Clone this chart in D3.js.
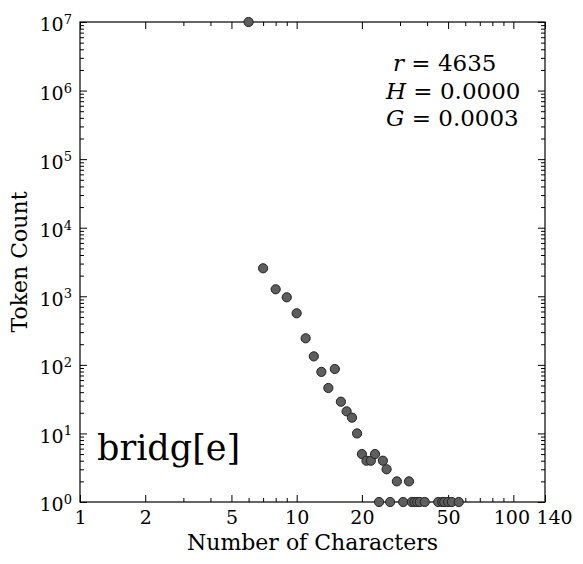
<!DOCTYPE html>
<html>
<head>
<meta charset="utf-8">
<script src="https://cdn.jsdelivr.net/npm/d3@7"></script>
<style>
  body { margin: 0; background: #fff; }
  text { font-family: "DejaVu Serif", serif; fill: #000; }
</style>
</head>
<body>
<script>
// characters per token vs how many tokens have that length
var lengths = [6, 7, 8, 9, 10, 11, 12, 13, 14, 15, 16, 17, 18, 19, 20, 21, 22, 23, 24, 25,
               26, 27, 29, 31, 33, 34, 35, 36, 37, 39, 45, 47, 48, 50, 52, 56];
var counts  = [1e7, 2560, 1265, 967, 565, 244, 133, 79, 46, 87, 29, 21, 17, 10, 5, 4, 4, 5, 1, 4,
               3, 1, 2, 1, 2, 1, 1, 1, 1, 1, 1, 1, 1, 1, 1, 1];

var xMajor = [1, 2, 5, 10, 20, 50, 100, 140];
var xMinor = [3, 4, 6, 7, 8, 9, 30, 40, 60, 70, 80, 90];
var yMajor = [1, 10, 100, 1e3, 1e4, 1e5, 1e6, 1e7];
var yMinor = [];
yMajor.slice(0, -1).forEach(function(d) {
  for (var k = 2; k < 10; k++) yMinor.push(d * k);
});

var stats = [["r", "4635"], ["H", "0.0000"], ["G", "0.0003"]];
var tag = "bridg[e]";

var svg = d3.select("body")
            .append("svg")
            .attr("width", 583)
            .attr("height", 564);

var x0 = 80, x1 = 545, y0 = 22, y1 = 502;

var x = d3.scaleLog().domain([1, 140]).range([x0, x1]);
var y = d3.scaleLog().domain([1, 1e7]).range([y1, y0]);

// ticks all point inward, on all four sides
function ticks(axis, vals, size, tr) {
  var g = svg.append("g")
      .attr("transform", tr)
      .call(axis.tickValues(vals).tickSize(-size).tickFormat(""));
  g.select(".domain").remove();
  g.selectAll("line").attr("stroke", "#000");
  return g;
}

ticks(d3.axisBottom(x), xMinor, 4, "translate(0," + y1 + ")");
ticks(d3.axisTop(x), xMinor, 4, "translate(0," + y0 + ")");
ticks(d3.axisTop(x), xMajor, 7, "translate(0," + y0 + ")");
ticks(d3.axisLeft(y), yMinor, 4, "translate(" + x0 + ",0)");
ticks(d3.axisRight(y), yMinor, 4, "translate(" + x1 + ",0)");
ticks(d3.axisRight(y), yMajor, 7, "translate(" + x1 + ",0)");

var gx = svg.append("g")
    .attr("transform", "translate(0," + y1 + ")")
    .call(d3.axisBottom(x).tickValues(xMajor).tickSize(-7).tickPadding(9)
          .tickFormat(function(d) { return d; }));
gx.select(".domain").remove();
gx.selectAll("line").attr("stroke", "#000");
gx.selectAll("text")
    .attr("font-family", "DejaVu Serif")
    .attr("font-size", 19)
    .attr("fill", "#000")
    .attr("dx", function(d) { return d === 140 ? 9 : (d === 100 ? -2 : 0); });

var gy = svg.append("g")
    .attr("transform", "translate(" + x0 + ",0)")
    .call(d3.axisLeft(y).tickValues(yMajor).tickSize(-7).tickPadding(8)
          .tickFormat(""));
gy.select(".domain").remove();
gy.selectAll("line").attr("stroke", "#000");
gy.selectAll("text")
    .attr("font-family", "DejaVu Serif")
    .attr("font-size", 19)
    .attr("fill", "#000")
    .attr("dy", "0.47em")
    .each(function(d) {
      var t = d3.select(this);
      t.append("tspan").text("10");
      t.append("tspan")
          .attr("font-size", 13)
          .attr("dy", -7.5)
          .text(Math.round(Math.log10(d)));
    });

svg.append("rect")
    .attr("x", x0)
    .attr("y", y0)
    .attr("width", x1 - x0)
    .attr("height", y1 - y0)
    .attr("fill", "none")
    .attr("stroke", "#000")
    .attr("stroke-width", 1.2);

svg.append("g")
  .selectAll("circle")
  .data(lengths)
  .join("circle")
    .attr("cx", function(d) { return x(d); })
    .attr("cy", function(d, i) { return y(counts[i]); })
    .attr("r", 4.6)
    .attr("fill", "#5e5e5e")
    .attr("stroke", "#222")
    .attr("stroke-width", 1);

// stats box
var statX = [393, 386, 386];
var statY = [71, 99, 126];
stats.forEach(function(s, i) {
  var t = svg.append("text")
      .attr("x", statX[i])
      .attr("y", statY[i])
      .attr("font-size", 23);
  t.append("tspan").attr("font-style", "italic").text(s[0]);
  t.append("tspan").text(" = " + s[1]);
});

svg.append("text")
    .attr("x", 97)
    .attr("y", 460)
    .attr("font-size", 35)
    .text(tag);

svg.append("text")
    .attr("x", (x0 + x1) / 2)
    .attr("y", 550)
    .attr("text-anchor", "middle")
    .attr("font-size", 22)
    .text("Number of Characters");

svg.append("text")
    .attr("transform", "translate(27," + (y0 + y1) / 2 + ") rotate(-90)")
    .attr("text-anchor", "middle")
    .attr("font-size", 22)
    .text("Token Count");
</script>
</body>
</html>
